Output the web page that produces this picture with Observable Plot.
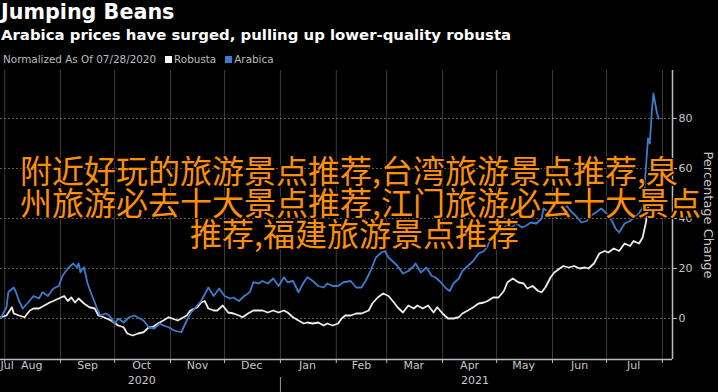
<!DOCTYPE html>
<html><head><meta charset="utf-8">
<script src="https://cdn.jsdelivr.net/npm/d3@7"></script>
<script src="https://cdn.jsdelivr.net/npm/@observablehq/plot@0.6"></script>
<style>
html,body{margin:0;padding:0;background:#000;width:718px;height:392px;overflow:hidden;}
body{position:relative;}
#title{position:absolute;left:1px;top:0px;font:bold 20.7px "DejaVu Sans";color:#fff;white-space:nowrap;}
#subtitle{position:absolute;left:1px;top:26px;font:bold 14.9px "DejaVu Sans";color:#fff;white-space:nowrap;}
#legend{position:absolute;left:3px;top:53px;font:10.4px "DejaVu Sans";color:#bbb;white-space:nowrap;}
.sw{display:inline-block;width:7px;height:7px;margin:0 2px 0 9px;}
#chart{position:absolute;left:0;top:66px;}
.cn{position:absolute;font:32px/30px "Noto Sans CJK SC";color:#ff9100;white-space:nowrap;
 text-shadow:1px 1px 0 #000,-1px -1px 0 #000,1px -1px 0 #000,-1px 1px 0 #000,0 0 3px #000;}
</style></head><body>
<div id="title">Jumping Beans</div>
<div id="subtitle">Arabica prices have surged, pulling up lower-quality robusta</div>
<div id="legend">Normalized As Of 07/28/2020<span class="sw" style="background:#fff"></span>Robusta<span class="sw" style="background:#3f7bc9"></span>Arabica</div>
<div id="chart"></div>
<div class="cn" style="left:20px;top:154px">附近好玩的旅游景点推荐,台湾旅游景点推荐,泉</div>
<div class="cn" style="left:20px;top:186px">州旅游必去十大景点推荐,江门旅游必去十大景点</div>
<div class="cn" style="left:190px;top:217px">推荐,福建旅游景点推荐</div>
<script>
const robusta = [["2020-07-28",0],["2020-07-30",0.5],["2020-08-02",1.2],["2020-08-05",4.5],["2020-08-06",2],["2020-08-09",1.2],["2020-08-12",0.5],["2020-08-15",3.2],["2020-08-17",4],["2020-08-20",4],["2020-08-23",5.2],["2020-08-26",6.4],["2020-08-28",7],["2020-08-31",8],["2020-09-03",9],["2020-09-05",7],["2020-09-07",8.4],["2020-09-09",6.4],["2020-09-11",8],["2020-09-14",6],["2020-09-17",4.5],["2020-09-20",4],["2020-09-22",1.2],["2020-09-25",0.5],["2020-09-29",-0.8],["2020-10-03",-2.8],["2020-10-06",-3.5],["2020-10-08",-6],["2020-10-11",-6.8],["2020-10-14",-6],["2020-10-17",-5.5],["2020-10-20",-3.5],["2020-10-22",-3.5],["2020-10-25",-2],["2020-10-28",-0.8],["2020-10-31",0.5],["2020-11-02",0],["2020-11-05",-0.8],["2020-11-07",0],["2020-11-10",1.2],["2020-11-12",3.2],["2020-11-16",4.5],["2020-11-18",6.4],["2020-11-20",7],["2020-11-22",4],["2020-11-25",3.2],["2020-11-27",3.2],["2020-11-30",5.2],["2020-12-03",2.4],["2020-12-06",2],["2020-12-09",1.2],["2020-12-11",0.5],["2020-12-14",2],["2020-12-17",3.2],["2020-12-20",3.2],["2020-12-22",3.2],["2020-12-25",2.4],["2020-12-28",3.2],["2020-12-31",2.4],["2021-01-03",3.2],["2021-01-05",2.4],["2021-01-08",0.5],["2021-01-11",-0.8],["2021-01-14",-2],["2021-01-16",-1.6],["2021-01-19",-2],["2021-01-22",-1.6],["2021-01-25",-2.8],["2021-01-27",-2],["2021-01-30",-2.8],["2021-02-02",-2],["2021-02-04",0],["2021-02-06",1.2],["2021-02-09",1.2],["2021-02-12",2],["2021-02-15",2],["2021-02-19",3.2],["2021-02-21",6],["2021-02-24",8.4],["2021-02-27",10],["2021-03-02",9],["2021-03-05",6.4],["2021-03-07",4.5],["2021-03-10",2.4],["2021-03-13",5.2],["2021-03-16",4],["2021-03-18",5.2],["2021-03-21",4],["2021-03-24",5.2],["2021-03-27",2.4],["2021-03-29",4.5],["2021-04-01",2],["2021-04-04",0],["2021-04-07",0],["2021-04-10",0.5],["2021-04-12",2],["2021-04-15",3.2],["2021-04-18",4.5],["2021-04-21",6],["2021-04-24",6.4],["2021-04-26",7],["2021-04-29",8.4],["2021-05-02",8.4],["2021-05-05",11],["2021-05-07",14.5],["2021-05-10",16],["2021-05-13",14.5],["2021-05-16",14],["2021-05-18",12],["2021-05-21",13],["2021-05-24",11],["2021-05-26",10.5],["2021-05-28",12.4],["2021-05-31",16.5],["2021-06-02",18.4],["2021-06-05",20],["2021-06-07",21],["2021-06-10",20.4],["2021-06-13",21],["2021-06-16",20],["2021-06-19",20.4],["2021-06-21",20],["2021-06-24",22],["2021-06-27",26],["2021-06-30",27],["2021-07-02",26.4],["2021-07-05",28],["2021-07-08",27],["2021-07-11",30],["2021-07-14",29],["2021-07-16",31],["2021-07-19",30],["2021-07-21",32.4],["2021-07-23",39],["2021-07-24",44.4],["2021-07-26",47]];

const arabica = [["2020-07-28",0],["2020-07-30",0.5],["2020-08-02",4.5],["2020-08-03",10.5],["2020-08-06",12.4],["2020-08-07",11],["2020-08-09",7],["2020-08-11",4],["2020-08-14",6.4],["2020-08-17",9],["2020-08-20",8],["2020-08-22",10.5],["2020-08-25",9],["2020-08-28",12],["2020-08-31",13],["2020-09-02",17],["2020-09-05",20],["2020-09-08",22],["2020-09-10",20.5],["2020-09-11",22],["2020-09-12",18.5],["2020-09-14",20.5],["2020-09-16",14],["2020-09-18",10],["2020-09-21",4.5],["2020-09-23",1.2],["2020-09-26",2],["2020-09-28",1.2],["2020-10-01",-2],["2020-10-03",0],["2020-10-06",-1.6],["2020-10-09",0.5],["2020-10-12",1.2],["2020-10-15",0],["2020-10-17",-0.8],["2020-10-20",-3.5],["2020-10-23",-4],["2020-10-26",-2],["2020-10-28",-2.8],["2020-10-31",-3.5],["2020-11-03",-4.8],["2020-11-07",-5.5],["2020-11-10",-0.8],["2020-11-12",2],["2020-11-15",4.5],["2020-11-18",7],["2020-11-21",11],["2020-11-22",12.4],["2020-11-25",9],["2020-11-28",12],["2020-12-01",9],["2020-12-04",8],["2020-12-06",8.4],["2020-12-09",7],["2020-12-12",9],["2020-12-15",10.5],["2020-12-17",14.5],["2020-12-20",14],["2020-12-22",15],["2020-12-25",14],["2020-12-28",16],["2020-12-31",13],["2021-01-03",16.5],["2021-01-05",14.5],["2021-01-08",15],["2021-01-11",10.5],["2021-01-14",14.5],["2021-01-16",16.5],["2021-01-19",15],["2021-01-22",13],["2021-01-25",12.4],["2021-01-27",14],["2021-01-30",13],["2021-02-02",13],["2021-02-05",14.5],["2021-02-09",15],["2021-02-12",12.4],["2021-02-15",12.4],["2021-02-18",16],["2021-02-20",19],["2021-02-23",24.4],["2021-02-26",26.4],["2021-02-28",27],["2021-03-02",24.4],["2021-03-05",22.4],["2021-03-07",21],["2021-03-10",18],["2021-03-13",19],["2021-03-16",21],["2021-03-17",22],["2021-03-20",18.4],["2021-03-23",20.4],["2021-03-26",17],["2021-03-28",16.5],["2021-03-31",14.5],["2021-04-03",12],["2021-04-05",11],["2021-04-07",14],["2021-04-10",16],["2021-04-12",19],["2021-04-15",21],["2021-04-18",23],["2021-04-21",26],["2021-04-24",27],["2021-04-26",29],["2021-04-28",33],["2021-05-01",34.4],["2021-05-04",35],["2021-05-06",37],["2021-05-09",36.4],["2021-05-12",38],["2021-05-15",36.4],["2021-05-17",37],["2021-05-20",38.4],["2021-05-23",38],["2021-05-26",40],["2021-05-27",44],["2021-05-31",42],["2021-06-03",40.5],["2021-06-06",42.4],["2021-06-09",45],["2021-06-11",43],["2021-06-14",41],["2021-06-17",38.4],["2021-06-20",39],["2021-06-22",41],["2021-06-25",42.4],["2021-06-28",44],["2021-07-01",42],["2021-07-04",39],["2021-07-06",36],["2021-07-08",34.4],["2021-07-11",38],["2021-07-14",39],["2021-07-16",40.4],["2021-07-19",42],["2021-07-21",44.4],["2021-07-22",52],["2021-07-23",62],["2021-07-24",72],["2021-07-25",70],["2021-07-26",82],["2021-07-27",90],["2021-07-28",86],["2021-07-29",82],["2021-07-30",80]];

const monthStarts = ["2020-08-01","2020-09-01","2020-10-01","2020-11-01","2020-12-01","2021-01-01","2021-02-01","2021-03-01","2021-04-01","2021-05-01","2021-06-01","2021-07-01","2021-08-01"];
const monthLabels = [["2020-08-16","Aug"],["2020-09-16","Sep"],["2020-10-16","Oct"],["2020-11-16","Nov"],["2020-12-16","Dec"],["2021-01-16","Jan"],["2021-02-15","Feb"],["2021-03-16","Mar"],["2021-04-16","Apr"],["2021-05-16","May"],["2021-06-16","Jun"],["2021-07-16","Jul"]];
const firstLabel = [["2020-07-29T16:00Z","Jul"]];
const yearLabels = [["2020-10-16","2020"],["2021-04-19","2021"]];
const yearBreak = ["2021-01-01"];
const yTicks = [0,20,40,60,80];
const xDomain = ["2020-07-29T16:00Z","2021-08-06T14:00Z"];
const yDomain = [-16.4, 99.2];

const P = d => new Date(d);
const parse = arr => arr.map(([d,v]) => ({date:P(d), value:v}));

const chart = Plot.plot({
  width:718, height:326,
  marginLeft:0, marginRight:46, marginTop:4, marginBottom:33,
  style:{background:"#000", color:"#c8c8c8", fontFamily:"DejaVu Sans", fontSize:"11px", overflow:"visible"},
  x:{type:"utc", domain:xDomain.map(P)},
  y:{domain:yDomain},
  marks:[
    Plot.gridX(monthStarts.map(P), {stroke:"#3e3e3e", strokeOpacity:1}),
    Plot.gridY(yTicks, {stroke:"#606060", strokeOpacity:1, strokeDasharray:"2,2"}),
    Plot.line(parse(robusta), {x:"date", y:"value", stroke:"#ececec", strokeWidth:1.8, clip:true}),
    Plot.line(parse(arabica), {x:"date", y:"value", stroke:"#3f7bc9", strokeWidth:1.8, clip:true}),
    Plot.ruleX([P(xDomain[1])], {stroke:"#bdbdbd", strokeWidth:1.5}),
    Plot.ruleY([yDomain[0]], {stroke:"#bdbdbd", strokeWidth:1.5}),
    Plot.axisY({anchor:"right", ticks:yTicks, tickSize:4, tickPadding:2, label:null, stroke:"#bdbdbd", fill:"#c8c8c8", fontSize:11}),
    Plot.axisX({ticks:monthStarts.map(P), tickSize:4, tickFormat:() => "", label:null, stroke:"#bdbdbd"}),
    Plot.axisX({ticks:yearBreak.map(P), tickSize:15, dy:18, tickFormat:() => "", label:null, stroke:"#9a9a9a"}),
    Plot.text(monthLabels, {x:d => P(d[0]), text:d => d[1], frameAnchor:"bottom", dy:9, fill:"#c8c8c8", fontSize:11}),
    Plot.text(firstLabel, {x:d => P(d[0]), text:d => d[1], frameAnchor:"bottom", dy:9, textAnchor:"start", fill:"#c8c8c8", fontSize:11}),
    Plot.text(yearLabels, {x:d => P(d[0]), text:d => d[1], frameAnchor:"bottom", dy:24, fill:"#c8c8c8", fontSize:11}),
    Plot.text(["Percentage Change"], {frameAnchor:"right", dx:36, rotate:90, textAnchor:"middle", fill:"#c8c8c8", fontSize:13})
  ]
});
document.getElementById("chart").appendChild(chart);
</script>
</body></html>
